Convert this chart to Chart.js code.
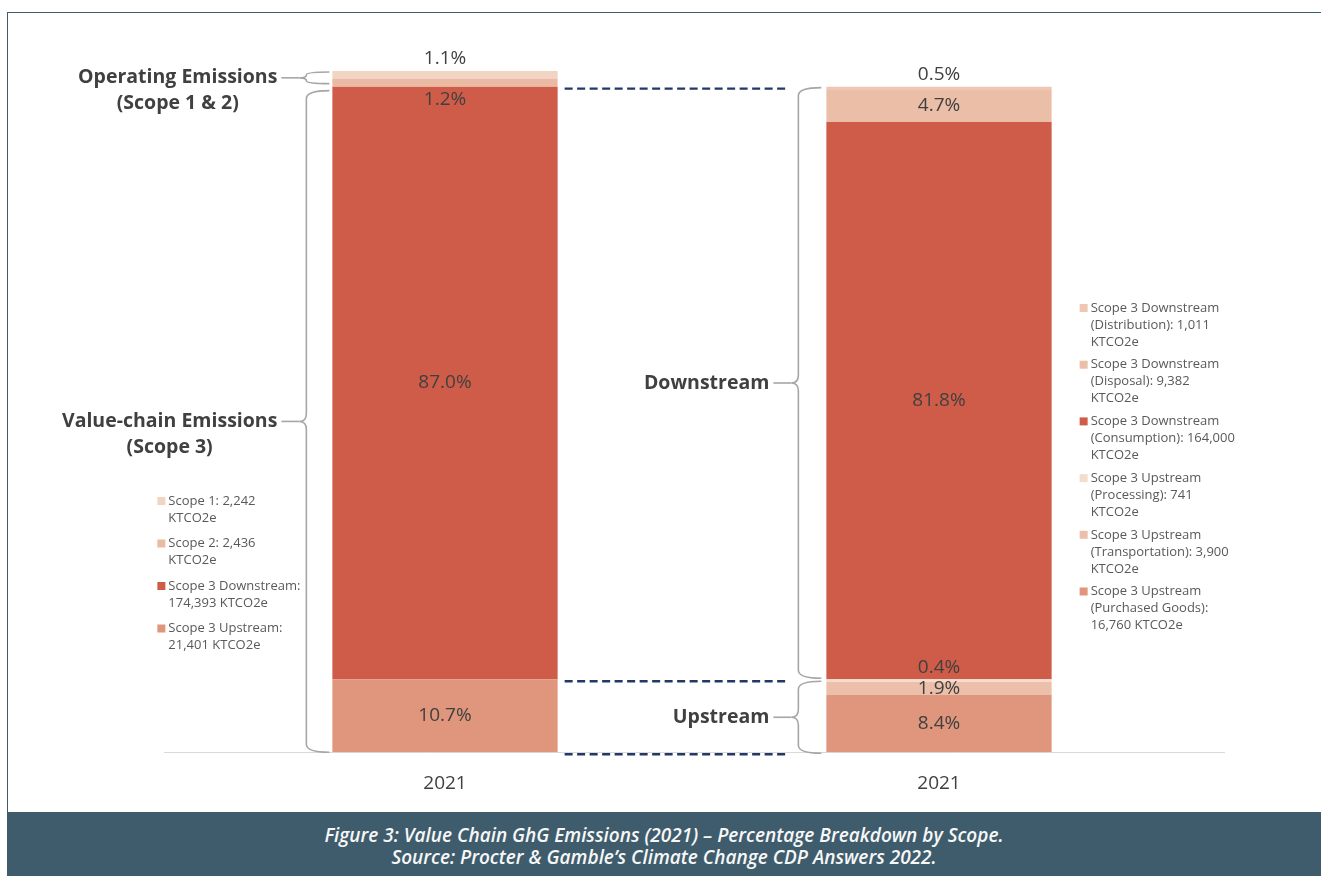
<!DOCTYPE html>
<html>
<head>
<meta charset="utf-8">
<title>Value Chain GhG Emissions (2021)</title>
<script src="https://cdn.jsdelivr.net/npm/chart.js@4.4.1/dist/chart.umd.min.js"></script>
<style>
  html, body { margin: 0; padding: 0; background: #fff; }
  body { width: 1321px; height: 876px; position: relative; overflow: hidden; font-family: 'Open Sans', sans-serif; }
  #frame { position: absolute; left: 7px; top: 12px; width: 1314px; height: 800px; border-top: 1.5px solid #3e5c6c; border-left: 1.5px solid #3e5c6c; box-sizing: border-box; }
  #wrap { position: absolute; left: 0; top: 0; width: 1321px; height: 812px; }
  #caption { position: absolute; left: 7px; top: 812px; width: 1314px; height: 64px; background: #3e5c6c; color: #f7f7f7;
             font-style: italic; font-weight: 600; font-size: 19px; line-height: 22px; text-align: center; padding-top: 12px; box-sizing: border-box; }
</style>
</head>
<body>
<div id="frame"></div>
<div id="wrap"><canvas id="chart"></canvas></div>
<div id="caption">Figure 3: Value Chain GhG Emissions (2021) – Percentage Breakdown by Scope.<br>Source: Procter &amp; Gamble’s Climate Change CDP Answers 2022.</div>
<script>
// both bars are the same year, one by scope, one by value-chain stage
const categories = ['2021', '2021'];

// left bar, bottom to top
const leftSeries = ['Scope 3 Upstream', 'Scope 3 Downstream', 'Scope 2', 'Scope 1'];
const leftShares = [10.7, 87.0, 1.2, 1.1];

// right bar, bottom to top
const rightSeries = [
    'Scope 3 Upstream (Purchased Goods)',
    'Scope 3 Upstream (Transportation)',
    'Scope 3 Upstream (Processing)',
    'Scope 3 Downstream (Consumption)',
    'Scope 3 Downstream (Disposal)',
    'Scope 3 Downstream (Distribution)'
];
const rightShares = [8.4, 1.9, 0.4, 81.8, 4.7, 0.5];

// legend text, top to bottom (reverse of stacking)
const leftLegend = [
    ['Scope 1: 2,242', 'KTCO2e'],
    ['Scope 2: 2,436', 'KTCO2e'],
    ['Scope 3 Downstream:', '174,393 KTCO2e'],
    ['Scope 3 Upstream:', '21,401 KTCO2e']
];
const rightLegend = [
    ['Scope 3 Downstream', '(Distribution): 1,011', 'KTCO2e'],
    ['Scope 3 Downstream', '(Disposal): 9,382', 'KTCO2e'],
    ['Scope 3 Downstream', '(Consumption): 164,000', 'KTCO2e'],
    ['Scope 3 Upstream', '(Processing): 741', 'KTCO2e'],
    ['Scope 3 Upstream', '(Transportation): 3,900', 'KTCO2e'],
    ['Scope 3 Upstream', '(Purchased Goods):', '16,760 KTCO2e']
];

// groups for the braces (indexes into the series above)
const leftGroups = [
    { lines: ['Operating Emissions', '(Scope 1 & 2)'], idx: [2, 3] },
    { lines: ['Value-chain Emissions', '(Scope 3)'], idx: [0, 1] }
];
const rightGroups = [
    { lines: ['Downstream'], idx: [3, 4, 5] },
    { lines: ['Upstream'], idx: [0, 1, 2] }
];

// styles
const leftColors = ['#df967c', '#cf5c48', '#ebbaa3', '#f2d4c2'];
const rightColors = ['#df967c', '#ebbfa9', '#f5dccc', '#cf5c48', '#ebbea8', '#efc6b1'];
const leftLabelPos = ['center', 'center', 'below', 'above'];
const rightLabelPos = ['center', 'center', 'above', 'center', 'center', 'above'];

const datasets = [];
leftSeries.forEach((name, i) => datasets.push({
    label: name, data: [leftShares[i], null], backgroundColor: leftColors[i], stack: 'total', labelPos: leftLabelPos[i]
}));
rightSeries.forEach((name, i) => datasets.push({
    label: name, data: [null, rightShares[i]], backgroundColor: rightColors[i], stack: 'total', labelPos: rightLabelPos[i]
}));
const nLeft = leftSeries.length;

function cumulative(shares, idx) {
    // lowest and highest stacked value covered by a group
    const lo = shares.slice(0, Math.min(...idx)).reduce((a, b) => a + b, 0);
    const hi = shares.slice(0, Math.max(...idx) + 1).reduce((a, b) => a + b, 0);
    return [lo, hi];
}

function brace(ctx, xEnd, xV, xTip, yTop, yBot) {
    const yMid = (yTop + yBot) / 2;
    const r = Math.min(8, (yBot - yTop) / 4);
    ctx.beginPath();
    ctx.moveTo(xEnd, yTop);
    ctx.quadraticCurveTo(xV, yTop, xV, yTop + r);
    ctx.lineTo(xV, yMid - r);
    ctx.quadraticCurveTo(xV, yMid, xTip, yMid);
    ctx.quadraticCurveTo(xV, yMid, xV, yMid + r);
    ctx.lineTo(xV, yBot - r);
    ctx.quadraticCurveTo(xV, yBot, xEnd, yBot);
    ctx.stroke();
    return yMid;
}

const baselinePlugin = {
    id: 'baseline',
    beforeDatasetsDraw(chart) {
        const ctx = chart.ctx, x = chart.scales.x, y = chart.scales.y;
        const y0 = Math.round(y.getPixelForValue(0)) + 0.5;
        ctx.save();
        ctx.strokeStyle = '#d9d9d9';
        ctx.lineWidth = 1;
        ctx.beginPath();
        ctx.moveTo(x.left - 34, y0);
        ctx.lineTo(x.right + 39, y0);
        ctx.stroke();
        ctx.restore();
    }
};

const valueLabels = {
    id: 'valueLabels',
    afterDatasetsDraw(chart) {
        const ctx = chart.ctx;
        ctx.save();
        ctx.font = '19px "Open Sans"';
        ctx.fillStyle = '#404040';
        ctx.textAlign = 'center';
        ctx.textBaseline = 'middle';
        chart.data.datasets.forEach((ds, di) => {
            chart.getDatasetMeta(di).data.forEach((bar, idx) => {
                const v = ds.data[idx];
                if (v == null) return;
                const top = Math.min(bar.y, bar.base), bottom = Math.max(bar.y, bar.base);
                let yy = (top + bottom) / 2;
                if (ds.labelPos === 'above') yy = top - 12;
                if (ds.labelPos === 'below') yy = bottom + 13;
                ctx.fillText(v.toFixed(1) + '%', bar.x, yy);
            });
        });
        ctx.restore();
    }
};

const bracesPlugin = {
    id: 'braces',
    afterDatasetsDraw(chart) {
        const ctx = chart.ctx, y = chart.scales.y;
        const leftBar = chart.getDatasetMeta(0).data[0];
        const rightBar = chart.getDatasetMeta(nLeft).data[1];
        const lLeft = leftBar.x - leftBar.width / 2, lRight = leftBar.x + leftBar.width / 2;
        const rLeft = rightBar.x - rightBar.width / 2, rRight = rightBar.x + rightBar.width / 2;

        ctx.save();
        ctx.strokeStyle = '#a6a6a6';
        ctx.lineWidth = 1.6;
        ctx.font = 'bold 19.5px "Open Sans"';
        ctx.fillStyle = '#404040';
        ctx.textBaseline = 'middle';

        const drawGroup = (g, shares, barLeft, insetTop, insetBot) => {
            const [lo, hi] = cumulative(shares, g.idx);
            const yTop = y.getPixelForValue(hi) + insetTop;
            const yBot = y.getPixelForValue(lo) + insetBot;
            const xTip = barLeft - 33;
            const yMid = brace(ctx, barLeft - 3, barLeft - 26, xTip, yTop, yBot);
            const textRight = xTip - 22;
            const w = ctx.measureText(g.lines[0]).width;
            const cx = textRight - w / 2;
            ctx.beginPath();
            ctx.moveTo(textRight + 4, yMid);
            ctx.lineTo(xTip, yMid);
            ctx.stroke();
            ctx.textAlign = 'center';
            g.lines.forEach((t, k) => ctx.fillText(t, cx, yMid + k * 26));
        };

        drawGroup(leftGroups[0], leftShares, lLeft, 1, -3);
        drawGroup(leftGroups[1], leftShares, lLeft, 4, 0);
        drawGroup(rightGroups[0], rightShares, rLeft - 2, 1, -1);
        drawGroup(rightGroups[1], rightShares, rLeft - 2, 2, 1);

        // dashed connectors between the two bars
        const leftUp = leftShares[0];
        const leftTopS3 = leftShares[0] + leftShares[1];
        ctx.strokeStyle = '#223866';
        ctx.lineWidth = 2.4;
        ctx.setLineDash([8, 4.5]);
        [leftTopS3, leftUp, 0].forEach(v => {
            const yy = y.getPixelForValue(v) + 2;
            ctx.beginPath();
            ctx.moveTo(lRight + 7, yy);
            ctx.lineTo(rLeft - 40, yy);
            ctx.stroke();
        });
        ctx.setLineDash([]);

        // legends
        ctx.font = '13px "Open Sans"';
        ctx.textAlign = 'left';
        const drawLegend = (items, colors, x0, y0, gap) => {
            let yy = y0;
            items.forEach((lines, k) => {
                ctx.fillStyle = colors[colors.length - 1 - k];
                ctx.fillRect(x0, yy - 4, 8, 8);
                ctx.fillStyle = '#595959';
                lines.forEach((t, j) => ctx.fillText(t, x0 + 11, yy + j * 17));
                yy += lines.length * 17 + gap;
            });
        };
        drawLegend(leftLegend, leftColors, lLeft - 175, 501, 8.5);
        drawLegend(rightLegend, rightColors, rRight + 28, 308, 5.7);
        ctx.restore();
    }
};

new Chart(document.getElementById('chart'), {
    type: 'bar',
    data: { labels: categories, datasets: datasets },
    options: {
        responsive: true,
        maintainAspectRatio: false,
        animation: false,
        layout: { padding: { left: 198, right: 135, top: 71, bottom: -3 } },
        plugins: {
            legend: { display: false },
            tooltip: { enabled: false }
        },
        datasets: { bar: { categoryPercentage: 0.456, barPercentage: 1, borderWidth: 0 } },
        scales: {
            x: {
                stacked: true,
                grid: { display: false, drawTicks: false },
                border: { display: false },
                ticks: { color: '#404040', font: { family: 'Open Sans', size: 19 }, padding: 20 }
            },
            y: { stacked: true, display: false, min: 0, max: 100 }
        }
    },
    plugins: [baselinePlugin, valueLabels, bracesPlugin]
});
</script>
</body>
</html>
